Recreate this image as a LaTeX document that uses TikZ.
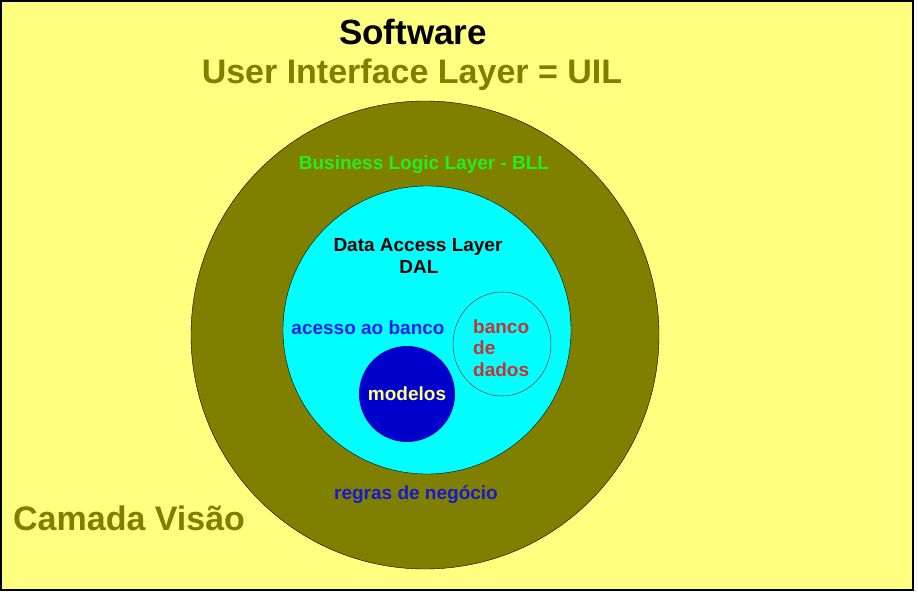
\documentclass[tikz,border=0pt]{standalone}
\usepackage{fontspec}
\setmainfont{Liberation Sans}
\usepackage{tikz}
\definecolor{paper}{HTML}{FFFF80}
\definecolor{uilolive}{HTML}{808000}
\definecolor{dalcyan}{HTML}{00FFFF}
\definecolor{diskblue}{HTML}{0000CC}
\definecolor{bllgreen}{HTML}{22EE22}
\definecolor{bancoblue}{HTML}{1E1EF0}
\definecolor{regrasblue}{HTML}{1818D0}
\definecolor{dbred}{HTML}{C83232}
\newcommand*{\fs}[1]{\fontsize{#1}{1.15\dimexpr#1pt\relax}\selectfont\bfseries}

\begin{document}
\begin{tikzpicture}[x=1pt, y=-1pt, lbl/.style={anchor=base, inner sep=0pt}]
    \useasboundingbox(0, 0)rectangle(918, 594);
    \draw[line width=2pt, fill=paper](1, 1)rectangle(913, 590);
    \node[circle, draw, fill=uilolive, minimum size=468pt, inner sep=0pt](bll)at(425, 335){};
    \node[circle, draw, fill=dalcyan, minimum size=288pt, inner sep=0pt](dal)at(427, 330){};
    \node[circle, fill=diskblue, minimum size=96pt, inner sep=0pt](disk)at(407, 394){};
    \draw[draw=dbred!80!black, line width=0.5pt](502, 344)ellipse[x radius=49pt, y radius=52pt];
    % titles
    \node[lbl]at(413, 45){\fs{35}Software};
    \node[lbl, text=uilolive]at(412, 83){\fs{34}User Interface Layer = UIL};
    \node[lbl, text=uilolive, anchor=base west]at(13, 530){\fs{34}Camada Vis\~ao};
    % layers
    \node[lbl, text=bllgreen]at(424, 169){\fs{19}Business Logic Layer - BLL};
    \node[lbl]at(418, 251){\fs{19}Data Access Layer};
    \node[lbl]at(419, 273){\fs{19}DAL};
    \node[lbl, text=bancoblue]at(368, 334){\fs{19}acesso ao banco};
    \node[lbl, text=paper]at(407, 400){\fs{19}modelos};
    \node[lbl, text=regrasblue]at(416, 499){\fs{19}regras de neg\'ocio};
    \node[lbl, text=dbred, anchor=base west]at(473, 333){\fs{19}banco};
    \node[lbl, text=dbred, anchor=base west]at(473, 354){\fs{19}de};
    \node[lbl, text=dbred, anchor=base west]at(473, 376){\fs{19}dados};
\end{tikzpicture}
\end{document}
